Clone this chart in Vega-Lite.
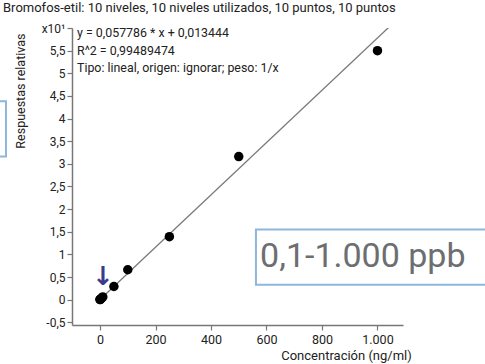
{
  "$schema": "https://vega.github.io/schema/vega-lite/v6.json",
  "autosize": "none",
  "width": 331,
  "height": 297,
  "padding": {"left": 72, "top": 28, "right": 82, "bottom": 39},
  "background": "white",
  "config": {"font": "Roboto", "view": {"stroke": null}},
  "title": {"text": "Bromofos-etil: 10 niveles, 10 niveles utilizados, 10 puntos, 10 puntos", "anchor": "start", "frame": "group", "dx": -69, "offset": 7, "fontSize": 13, "fontWeight": "normal", "color": "#222"},
  "datasets": {
    "pts": [
      {"conc": 0.1, "resp": 0.001},
      {"conc": 0.5, "resp": 0.004},
      {"conc": 1, "resp": 0.007},
      {"conc": 5, "resp": 0.03},
      {"conc": 10, "resp": 0.06},
      {"conc": 50, "resp": 0.29},
      {"conc": 100, "resp": 0.66},
      {"conc": 250, "resp": 1.39},
      {"conc": 500, "resp": 3.16},
      {"conc": 1000, "resp": 5.5}
    ],
    "fit": [
      {"conc": 0, "resp": 0.0013},
      {"conc": 1045, "resp": 6.04}
    ],
    "notes": [
      {"conc": -83, "resp": 5.9, "t": "y = 0,057786 * x + 0,013444"},
      {"conc": -83, "resp": 5.5, "t": "R^2 = 0,99489474"},
      {"conc": -83, "resp": 5.12, "t": "Tipo: lineal, origen: ignorar; peso: 1/x"}
    ],
    "boxes": [
      {"conc": 562, "conc2": 1410, "resp": 1.55, "resp2": 0.33},
      {"conc": -400, "conc2": -339, "resp": 4.38, "resp2": 3.16}
    ]
  },
  "encoding": {
    "x": {"field": "conc", "type": "quantitative", "scale": {"domain": [-101, 1092], "nice": false, "zero": false},
      "axis": {"values": [0, 200, 400, 600, 800, 1000], "labelExpr": "datum.value == 1000 ? '1.000' : datum.label", "title": "Concentración (ng/ml)", "grid": false, "labelOverlap": false,
        "domainColor": "#777", "domainWidth": 1.5, "tickColor": "#777", "tickSize": 5, "tickWidth": 1.2, "labelFontSize": 12.5, "labelColor": "#222", "labelPadding": 3,
        "titleFontSize": 13, "titleFontWeight": "normal", "titleColor": "#222", "titleX": 274, "titleY": 34, "titleAlign": "center", "titleBaseline": "alphabetic"}},
    "y": {"field": "resp", "type": "quantitative", "scale": {"domain": [-0.56, 6.0], "nice": false, "zero": false},
      "axis": {"values": [-0.5, 0, 0.5, 1, 1.5, 2, 2.5, 3, 3.5, 4, 4.5, 5, 5.5, 6], "labelExpr": "datum.value == 6 ? 'x10¹' : replace(toString(datum.value), '.', ',')", "title": "Respuestas relativas", "grid": false, "labelOverlap": false, "labelBound": false,
        "domainColor": "#777", "domainWidth": 1.5, "tickColor": "#777", "tickSize": 5, "tickWidth": 1.2, "labelFontSize": 12, "labelColor": "#222", "labelPadding": 2,
        "titleFontSize": 12.5, "titleFontWeight": "normal", "titleColor": "#222", "titleX": -52, "titleY": 5, "titleAngle": -90, "titleAlign": "right", "titleBaseline": "middle"}}
  },
  "layer": [
    {
      "data": {"name": "boxes"},
      "mark": {"type": "rect", "fill": null, "stroke": "#8fb6dd", "strokeWidth": 2, "clip": false},
      "encoding": {
        "x2": {"field": "conc2"},
        "y2": {"field": "resp2"}
      }
    },
    {
      "data": {"name": "fit"},
      "mark": {"type": "line", "color": "#7a7a7a", "strokeWidth": 1.3, "clip": true}
    },
    {
      "data": {"name": "pts"},
      "mark": {"type": "point", "filled": true, "color": "black", "opacity": 1, "size": 90}
    },
    {
      "data": {"name": "notes"},
      "mark": {"type": "text", "align": "left", "baseline": "middle", "fontSize": 12.4, "color": "#222"},
      "encoding": {"text": {"field": "t"}}
    },
    {
      "data": {"values": [{"conc": 577, "resp": 0.95, "t": "0,1-1.000 ppb"}]},
      "mark": {"type": "text", "align": "left", "baseline": "middle", "fontSize": 34, "color": "#6d6e71", "clip": false},
      "encoding": {"text": {"field": "t"}}
    },
    {
      "data": {"values": [{"conc": 11, "resp": 0.5, "t": "↓"}]},
      "mark": {"type": "text", "align": "center", "baseline": "middle", "fontSize": 26, "fontWeight": "bold", "color": "#3b3b8c", "font": "DejaVu Sans"},
      "encoding": {"text": {"field": "t"}}
    }
  ]
}
